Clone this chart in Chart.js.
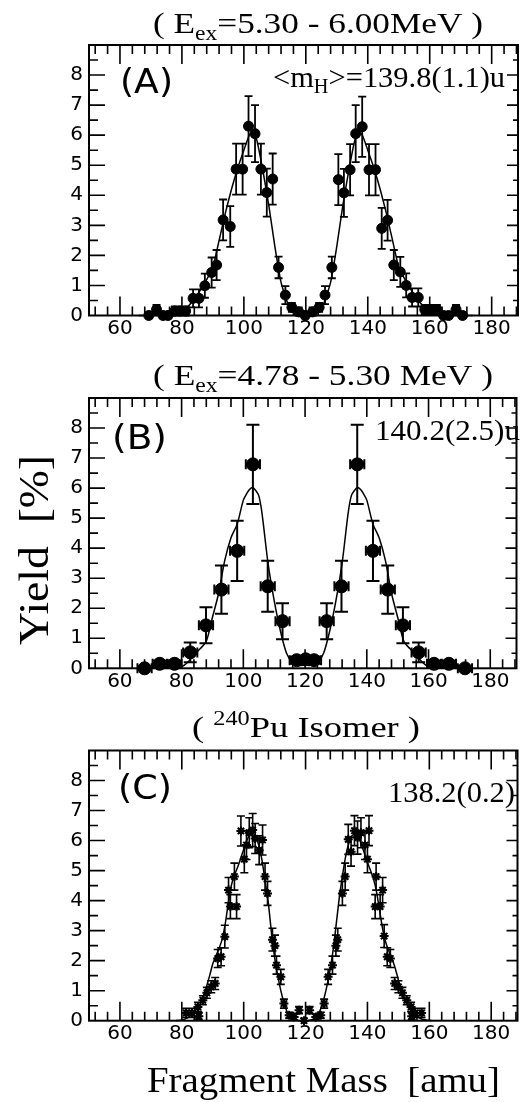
<!DOCTYPE html>
<html>
<head>
<meta charset="utf-8">
<script src="https://cdn.jsdelivr.net/npm/chart.js@4.4.0/dist/chart.umd.min.js"></script>
<style>
html, body { margin: 0; padding: 0; background: #fff; }
#wrap { position: relative; width: 524px; height: 1102px; overflow: hidden; }
canvas { position: absolute; left: 0; top: 0; }
</style>
</head>
<body>
<div id="wrap">
  <canvas id="cA" width="524" height="1102"></canvas>
  <canvas id="cB" width="524" height="1102"></canvas>
  <canvas id="cC" width="524" height="1102"></canvas>
</div>
<script>
// tick labels
const xTickLabels = [60, 80, 100, 120, 140, 160, 180];
const yTickLabels = [0, 1, 2, 3, 4, 5, 6, 7, 8];

// (A) Eex = 5.30 - 6.00 MeV
const massA = [69.3, 71.8, 73.9, 75.5, 77.7, 79.3, 81.2, 83.6, 85.5, 87.4, 89.6, 91.2, 93.3, 95.6, 97.5, 99.6, 101.5, 103.6, 105.5, 107.4, 109.3, 111.2,
  113.4, 115.5, 117.7, 119.8, 122.2, 124.3, 126.2,
  128.4, 130.5, 132.3, 134.3, 136.1, 138.2, 140.4, 142.5, 144.5, 146.4, 148.4, 150.5, 152.4, 154.3, 156.3, 158.4, 160.5, 162.3, 164.5, 166.1, 168.5, 170.6];
const yieldA = [0, 0.2, 0, 0, 0.15, 0.15, 0.15, 0.57, 0.57, 0.99, 1.43, 1.68, 3.18, 2.96, 4.87, 4.87, 6.3, 6.05, 4.87, 4.09, 4.54, 1.6,
  0.68, 0.27, 0.12, 0, 0.12, 0.27, 0.68,
  1.6, 4.52, 4.08, 4.85, 6.05, 6.28, 4.85, 4.85, 2.9, 3.17, 1.68, 1.45, 1.0, 0.6, 0.6, 0.2, 0.2, 0.2, 0, 0, 0.2, 0];
const errA = [0.1, 0.15, 0.1, 0.1, 0.15, 0.15, 0.15, 0.3, 0.3, 0.4, 0.5, 0.5, 0.68, 0.68, 0.85, 0.85, 1.0, 0.95, 0.85, 0.8, 0.85, 0.36,
  0.3, 0.15, 0.15, 0.1, 0.15, 0.15, 0.3,
  0.36, 0.85, 0.8, 0.85, 0.95, 1.0, 0.85, 0.85, 0.68, 0.68, 0.5, 0.5, 0.4, 0.3, 0.3, 0.15, 0.15, 0.15, 0.1, 0.1, 0.15, 0.1];
const fitMassA = [66, 70, 74, 76, 78, 80, 82, 84, 86, 88, 90, 92, 94, 96, 98, 100, 102, 104, 106, 108, 110, 112, 114, 116, 118, 120,
  122, 124, 126, 128, 130, 132, 134, 136, 138, 140, 142, 144, 146, 148, 150, 152, 154, 156, 158, 160, 162, 164, 166, 170, 174];
const fitA = [0, 0, 0, 0.01, 0.03, 0.08, 0.3, 0.55, 0.85, 1.2, 1.6, 2.5, 3.4, 4.2, 4.9, 5.5, 6.05, 5.9, 4.9, 3.7, 2.3, 1.1, 0.45, 0.15, 0.04, 0.02,
  0.04, 0.15, 0.45, 1.1, 2.3, 3.7, 4.9, 5.9, 6.05, 5.5, 4.9, 4.2, 3.4, 2.5, 1.6, 1.2, 0.85, 0.55, 0.3, 0.08, 0.03, 0.01, 0, 0, 0];

// (B) Eex = 4.78 - 5.30 MeV
const massB = [68.0, 72.9, 77.7, 82.8, 87.9, 92.9, 98.0, 103.1, 107.9, 112.7, 117.3, 120.2, 122.9, 127.0, 131.8, 136.9, 142.0, 146.8, 151.7, 156.8, 161.8, 166.6, 171.8];
const yieldB = [0, 0.15, 0.15, 0.53, 1.43, 2.62, 3.91, 6.79, 2.73, 1.57, 0.27, 0.3, 0.27, 1.57, 2.73, 6.79, 3.91, 2.62, 1.43, 0.53, 0.15, 0.15, 0];
const errB = [0.08, 0.1, 0.1, 0.33, 0.6, 0.8, 1.0, 1.32, 0.85, 0.6, 0.12, 0.12, 0.12, 0.6, 0.85, 1.32, 1.0, 0.8, 0.6, 0.33, 0.1, 0.1, 0.08];
const fitMassB = [66, 74, 78, 80, 82, 84, 86, 88, 90, 92, 94, 96, 98, 100, 101, 102, 103, 104, 105, 106, 108, 110, 112, 114, 116, 118, 120,
  122, 124, 126, 128, 130, 132, 134, 135, 136, 137, 138, 139, 140, 142, 144, 146, 148, 150, 152, 154, 156, 158, 160, 162, 166, 174];
const fitB = [0, 0, 0.01, 0.05, 0.2, 0.45, 0.65, 0.9, 1.7, 2.5, 3.6, 4.35, 4.8, 5.6, 5.8, 5.95, 6.02, 5.92, 5.75, 5.2, 3.5, 2.25, 1.25, 0.5, 0.18, 0.1, 0.1,
  0.1, 0.18, 0.5, 1.25, 2.25, 3.5, 5.2, 5.75, 5.92, 6.02, 5.95, 5.8, 5.6, 4.8, 4.35, 3.6, 2.5, 1.7, 0.9, 0.65, 0.45, 0.2, 0.05, 0.01, 0, 0];

// (C) 240Pu isomer
const massC = [81.4, 83.3, 85.2, 85.5, 86.8, 88.1, 89.5, 90.8, 91.6, 92.7, 93.9, 95.1, 95.7, 97.0, 97.7, 99.1, 100.2, 100.9, 101.8, 102.9, 103.7, 105.0, 106.1, 106.9, 107.7, 109.3, 110.1, 110.6, 112.0, 113.0, 114.7, 116.3, 117.9, 119.5,
  121.3, 123.3, 124.9, 126.0, 127.3, 128.7, 129.8, 130.4, 131.9, 132.8, 133.8, 134.7, 135.8, 136.8, 137.9, 139.2, 140.0, 140.5, 142.5, 142.8, 144.1, 144.9, 145.4, 146.4, 147.4, 148.8, 150.0, 151.3, 152.7, 154.1, 154.3, 155.4, 157.5];
const yieldC = [0.26, 0.26, 0.46, 0.15, 0.68, 0.93, 1.13, 1.24, 2.07, 2.13, 2.8, 4.35, 3.8, 4.8, 3.8, 6.32, 5.38, 5.85, 6.26, 6.35, 6.07, 5.68, 6.02, 4.8, 4.24, 2.7, 2.5, 1.85, 1.46, 0.57, 0.18, 0.12, 0.35, 0.0,
  0.35, 0.12, 0.18, 0.57, 1.46, 1.85, 2.5, 2.7, 4.24, 4.8, 6.04, 5.63, 6.33, 6.1, 6.26, 5.85, 5.38, 6.33, 3.8, 4.8, 3.8, 4.35, 2.82, 2.13, 2.07, 1.24, 1.13, 0.93, 0.68, 0.46, 0.15, 0.26, 0.26];
const errC = [0.15, 0.15, 0.15, 0.12, 0.15, 0.18, 0.2, 0.2, 0.3, 0.3, 0.38, 0.42, 0.4, 0.45, 0.4, 0.5, 0.45, 0.48, 0.5, 0.55, 0.5, 0.48, 0.5, 0.45, 0.4, 0.38, 0.35, 0.3, 0.25, 0.15, 0.1, 0.1, 0.12, 0.08,
  0.12, 0.1, 0.1, 0.15, 0.25, 0.3, 0.35, 0.38, 0.4, 0.45, 0.5, 0.48, 0.5, 0.55, 0.5, 0.48, 0.45, 0.5, 0.4, 0.45, 0.4, 0.42, 0.38, 0.3, 0.3, 0.2, 0.2, 0.18, 0.15, 0.15, 0.12, 0.15, 0.15];
const fitMassC = [78, 80, 82, 84, 86, 88, 89, 90, 91, 92, 93, 94, 95, 96, 97, 98, 99, 100, 101, 102, 103, 104, 105, 106, 107, 108, 109, 110, 111, 112, 113, 114, 115, 116, 117, 118, 119.3,
  120.6, 122, 123, 124, 125, 126, 127, 128, 129, 130, 131, 132, 133, 134, 135, 136, 137, 138, 139, 140, 141, 142, 143, 144, 145, 146, 147, 148, 149, 150, 151, 152, 153, 155, 157, 159, 161];
const fitC = [0, 0.02, 0.1, 0.3, 0.55, 1.15, 1.5, 1.9, 2.15, 2.4, 2.7, 3.2, 3.9, 4.5, 4.85, 5.1, 5.4, 5.7, 6.0, 6.2, 6.25, 6.1, 5.8, 5.3, 4.6, 3.9, 2.9, 2.1, 1.5, 1.0, 0.6, 0.3, 0.12, 0.05, 0.02, 0, 0,
  0, 0.03, 0.08, 0.19, 0.42, 0.76, 1.2, 1.74, 2.42, 3.3, 4.18, 4.88, 5.5, 5.92, 6.16, 6.23, 6.12, 5.88, 5.58, 5.28, 5.0, 4.71, 4.26, 3.62, 3.0, 2.58, 2.3, 2.05, 1.74, 1.36, 1.0, 0.73, 0.5, 0.26, 0.08, 0.02, 0];

Chart.defaults.font.family = '"DejaVu Sans"';
Chart.defaults.color = '#000';

// draws text pieces stretched to fit between x0 and x1
function rich(ctx, parts, x0, x1, base, family) {
  let w = 0;
  parts.forEach(p => { ctx.font = (p[3] || '') + ' ' + p[1] + 'px ' + family; w += ctx.measureText(p[0]).width; });
  const sx = (x1 - x0) / w;
  ctx.save();
  ctx.translate(x0, base);
  ctx.scale(sx, 1);
  ctx.fillStyle = '#000';
  ctx.textBaseline = 'alphabetic';
  ctx.textAlign = 'left';
  let cx = 0;
  parts.forEach(p => {
    ctx.font = (p[3] || '') + ' ' + p[1] + 'px ' + family;
    ctx.fillText(p[0], cx, p[2] || 0);
    cx += ctx.measureText(p[0]).width;
  });
  ctx.restore();
}
const SERIF = '"Liberation Serif"';
const SANS = '"DejaVu Sans"';

function makePanel(cfg) {
  const framePlugin = {
    id: 'frame' + cfg.id,
    afterDraw(chart) {
      const { ctx, chartArea: a } = chart;
      const x = chart.scales.x, y = chart.scales.y;
      ctx.save();
      ctx.strokeStyle = '#000';
      ctx.lineWidth = 2;
      ctx.strokeRect(a.left, a.top, a.right - a.left, a.bottom - a.top);
      ctx.lineWidth = 1.6;
      ctx.beginPath();
      for (let v = 52; v <= 188; v += 4) {
        const px = x.getPixelForValue(v);
        const len = v % 20 === 0 ? 19 : 9;
        ctx.moveTo(px, a.bottom); ctx.lineTo(px, a.bottom - len);
        ctx.moveTo(px, a.top); ctx.lineTo(px, a.top + len);
      }
      for (let v = 0.5; v < 9; v += 0.5) {
        const py = y.getPixelForValue(v);
        const major = Number.isInteger(v);
        ctx.moveTo(a.left, py); ctx.lineTo(a.left + (major ? 16 : 9), py);
        ctx.moveTo(a.right, py); ctx.lineTo(a.right - (major ? 11 : 5), py);
      }
      ctx.stroke();
      ctx.restore();
      cfg.texts(ctx);
    }
  };

  const errPlugin = {
    id: 'err' + cfg.id,
    beforeDatasetsDraw(chart) {
      const { ctx } = chart;
      const x = chart.scales.x, y = chart.scales.y;
      ctx.save();
      ctx.strokeStyle = '#000';
      ctx.lineWidth = cfg.errWidth;
      ctx.beginPath();
      cfg.mass.forEach((m, i) => {
        const px = x.getPixelForValue(m);
        const py = y.getPixelForValue(cfg.yld[i]);
        const t = y.getPixelForValue(cfg.yld[i] + cfg.err[i]);
        const b = y.getPixelForValue(Math.max(0, cfg.yld[i] - cfg.err[i]));
        ctx.moveTo(px, t); ctx.lineTo(px, b);
        ctx.moveTo(px - cfg.cap, t); ctx.lineTo(px + cfg.cap, t);
        ctx.moveTo(px - cfg.cap, b); ctx.lineTo(px + cfg.cap, b);
        if (cfg.xerr > 0) {
          const l = x.getPixelForValue(m - cfg.xerr), r = x.getPixelForValue(m + cfg.xerr);
          ctx.moveTo(l, py); ctx.lineTo(r, py);
          ctx.moveTo(l, py - cfg.capH); ctx.lineTo(l, py + cfg.capH);
          ctx.moveTo(r, py - cfg.capH); ctx.lineTo(r, py + cfg.capH);
        }
      });
      ctx.stroke();
      ctx.restore();
    }
  };

  return new Chart(document.getElementById(cfg.id), {
    type: 'scatter',
    data: {
      datasets: [
        {
          data: cfg.mass.map((m, i) => ({ x: m, y: cfg.yld[i] })),
          pointStyle: cfg.pointStyle,
          pointRadius: cfg.radius,
          pointBackgroundColor: '#000',
          pointBorderColor: '#000',
          pointBorderWidth: cfg.pointBorder,
          showLine: false,
          clip: false,
          order: 1
        },
        {
          data: cfg.fitMass.map((m, i) => ({ x: m, y: cfg.fit[i] })),
          showLine: true,
          pointRadius: 0,
          borderColor: '#000',
          borderWidth: 1.5,
          tension: cfg.tension,
          clip: false,
          order: 2
        }
      ]
    },
    options: {
      responsive: false,
      animation: false,
      events: [],
      layout: { padding: { left: 0, right: 4.5, top: cfg.top, bottom: 1102 - cfg.bottom - 30 } },
      plugins: { legend: { display: false }, tooltip: { enabled: false } },
      scales: {
        x: {
          type: 'linear', min: 50, max: 188.5,
          grid: { display: false, drawTicks: false },
          border: { display: false },
          afterBuildTicks: s => { s.ticks = xTickLabels.map(v => ({ value: v })); },
          afterFit: s => { s.height = 30; },
          ticks: { padding: 1, color: '#000', autoSkip: false, maxRotation: 0, font: { size: 20 } }
        },
        y: {
          type: 'linear', min: 0, max: 9,
          grid: { display: false, drawTicks: false },
          border: { display: false },
          afterBuildTicks: s => { s.ticks = yTickLabels.map(v => ({ value: v })); },
          afterFit: s => { s.width = 89; },
          ticks: { padding: 6, color: '#000', font: { size: 20 } }
        }
      }
    },
    plugins: [errPlugin, framePlugin]
  });
}

makePanel({
  id: 'cA', top: 45, bottom: 315.5,
  mass: massA, yld: yieldA, err: errA, xerr: 0.9,
  fitMass: fitMassA, fit: fitA, tension: 0.15,
  pointStyle: 'circle', radius: 5, pointBorder: 1, errWidth: 1.8, cap: 4, capH: 4,
  texts(ctx) {
    rich(ctx, [['( E', 30], ['ex', 20, 7], ['=5.30 - 6.00MeV )', 30]], 153, 483, 32.7, SERIF);
    rich(ctx, [['<m', 30], ['H', 20, 6], ['>=139.8(1.1)u', 30]], 273, 505, 87, SERIF);
    rich(ctx, [['(A)', 33]], 120, 173, 93, SANS);
  }
});

makePanel({
  id: 'cB', top: 398, bottom: 668.3,
  mass: massB, yld: yieldB, err: errB, xerr: 2.3,
  fitMass: fitMassB, fit: fitB, tension: 0.3,
  pointStyle: 'circle', radius: 6.5, pointBorder: 1, errWidth: 2, cap: 6.5, capH: 5,
  texts(ctx) {
    rich(ctx, [['( E', 30], ['ex', 20, 7], ['=4.78 - 5.30 MeV )', 30]], 153, 493, 385, SERIF);
    rich(ctx, [['140.2(2.5)u', 30]], 375, 520, 440, SERIF);
    rich(ctx, [['(B)', 33]], 112, 167, 449, SANS);
  }
});

makePanel({
  id: 'cC', top: 750.5, bottom: 1020.7,
  mass: massC, yld: yieldC, err: errC, xerr: 0.5,
  fitMass: fitMassC, fit: fitC, tension: 0.15,
  pointStyle: 'star', radius: 4.5, pointBorder: 2, errWidth: 1.6, cap: 4, capH: 3,
  texts(ctx) {
    rich(ctx, [['( ', 30], ['240', 20, -12], ['Pu Isomer )', 30]], 192, 420, 736.7, SERIF);
    rich(ctx, [['138.2(0.2)', 30]], 388, 515, 801.7, SERIF);
    rich(ctx, [['(C)', 33]], 118, 172, 799, SANS);
    // axis titles for the whole figure
    rich(ctx, [['Fragment Mass  [amu]', 36]], 147, 500, 1092, SERIF);
    ctx.save();
    ctx.translate(48, 645);
    ctx.rotate(-Math.PI / 2);
    rich(ctx, [['Yield  [%]', 42]], 0, 190, 0, SERIF);
    ctx.restore();
  }
});
</script>
</body>
</html>
